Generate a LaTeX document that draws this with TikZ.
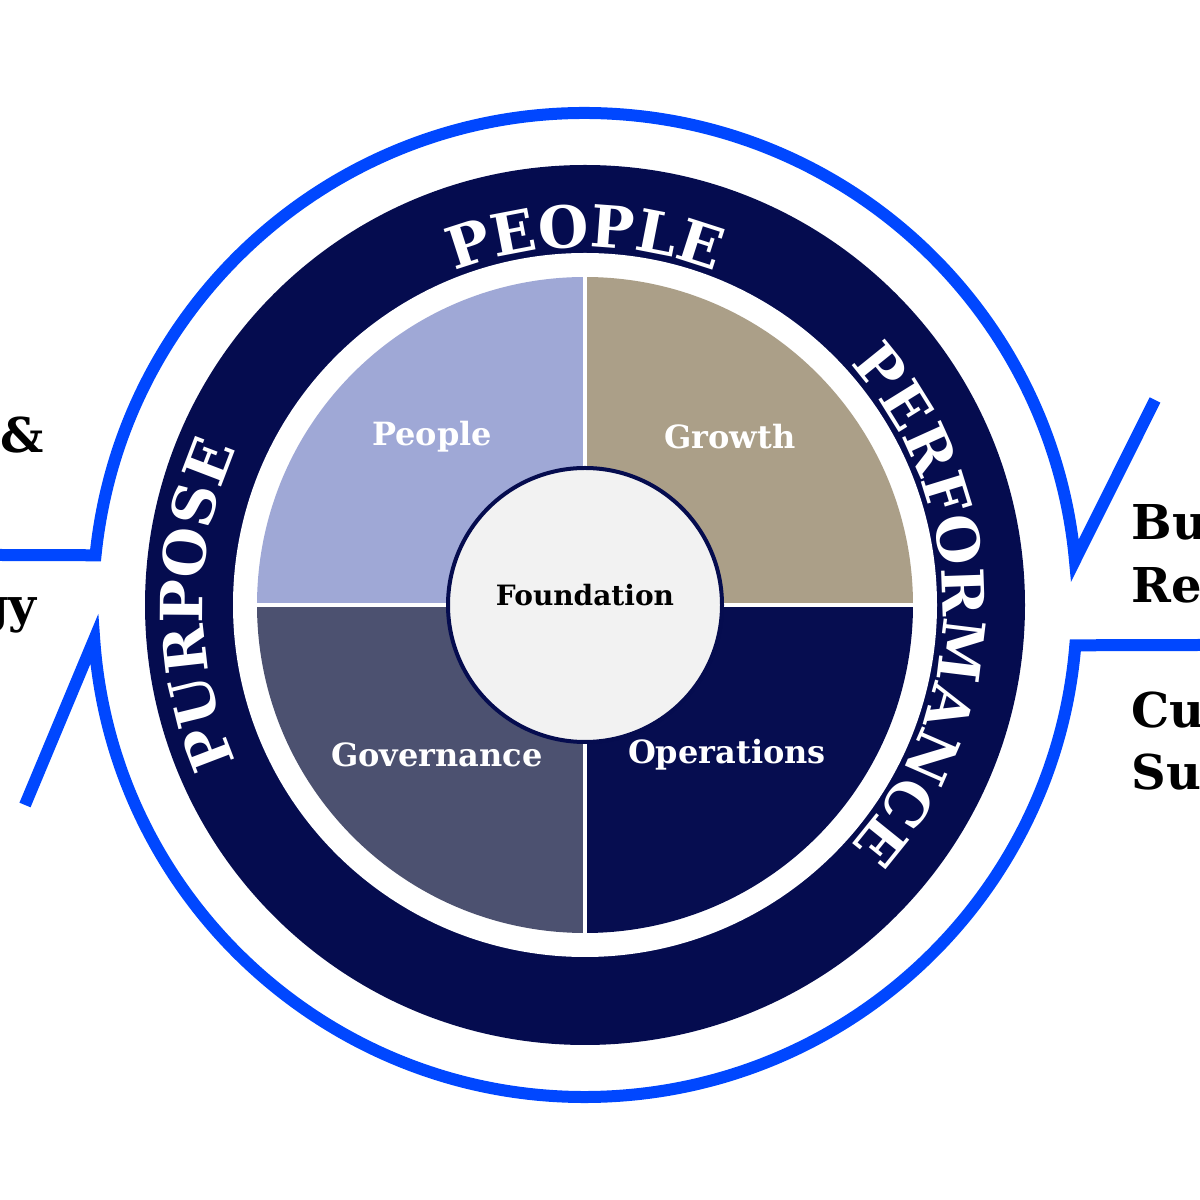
\documentclass[tikz,border=0pt]{standalone}
\usepackage{fontspec}
\setmainfont{DejaVu Serif}
\usetikzlibrary{decorations.text}
\definecolor{ring}{HTML}{050C4F}
\definecolor{qpeople}{HTML}{9FA8D6}
\definecolor{qgrowth}{HTML}{AB9F88}
\definecolor{qgov}{HTML}{4C5170}
\definecolor{qops}{HTML}{060D50}
\definecolor{fnd}{HTML}{F2F2F2}
\definecolor{bl}{HTML}{0047FF}
\tikzset{
  blueline/.style={draw=bl,line width=12pt},
  qlabel/.style={text=white,font=\bfseries\fontsize{32}{36}\selectfont},
  side/.style={text=black,font=\bfseries\fontsize{48}{52}\selectfont,anchor=west},
  ringtext/.style={decorate,decoration={text along path,text align=center,
     text={|\color{white}\bfseries\fontsize{58}{60}\selectfont|#1}}}
}
\begin{document}
\begin{tikzpicture}[x=1pt,y=1pt]
\useasboundingbox (0,0) rectangle (1200,1200);
\coordinate (c) at (585,595);
% blue arcs
\draw[blueline] (0,645) -- ([shift={(174.2:492)}]c) arc[start angle=174.2,end angle=5.2,radius=492] coordinate (re) -- (1155,800);
\draw[blueline] (25,395) -- ([shift={(184:492)}]c) arc[start angle=184,end angle=355.3,radius=492] -- (1200,555);
% dark ring
\fill[ring] (c) circle[radius=440];
\fill[white] (c) circle[radius=352];
% quadrants
\fill[qpeople] (c) -- ++(90:328) arc[start angle=90,end angle=180,radius=328] -- cycle;
\fill[qgrowth] (c) -- ++(0:328) arc[start angle=0,end angle=90,radius=328] -- cycle;
\fill[qgov] (c) -- ++(180:328) arc[start angle=180,end angle=270,radius=328] -- cycle;
\fill[qops] (c) -- ++(270:328) arc[start angle=270,end angle=360,radius=328] -- cycle;
\draw[white,line width=4pt] ([yshift=-330]c) -- ([yshift=330]c);
\draw[white,line width=4pt] ([xshift=-330]c) -- ([xshift=330]c);
\node[circle,fill=fnd,draw=ring,line width=4pt,minimum size=274pt,inner sep=0pt] (f) at (c) {};
\node[font=\bfseries\fontsize{28}{30}\selectfont] at (585,605) {Foundation};
\node[qlabel] (p) at (432,763) {People};
\node[qlabel] (g) at (730,763) {Growth};
\node[qlabel] (gv) at (437,445) {Governance};
\node[qlabel] (o) at (727,445) {Operations};
% ring texts
\path[ringtext=PEOPLE] ([shift={(120:358)}]c) arc[start angle=120,end angle=60,radius=358];
\path[ringtext=PURPOSE] ([shift={(210:382)}]c) arc[start angle=210,end angle=150,radius=382];
\path[ringtext=PERFORMANCE] ([shift={(45:358)}]c) arc[start angle=45,end angle=-45,radius=358];
% side texts
\node[side] at (-3,765) {\&};
\node[side,anchor=east] at (40,585) {gy};
\node[side] at (1128,678) {Bu};
\node[side] at (1128,615) {Re};
\node[side] at (1128,490) {Cu};
\node[side] at (1128,428) {Su};
\end{tikzpicture}
\end{document}
